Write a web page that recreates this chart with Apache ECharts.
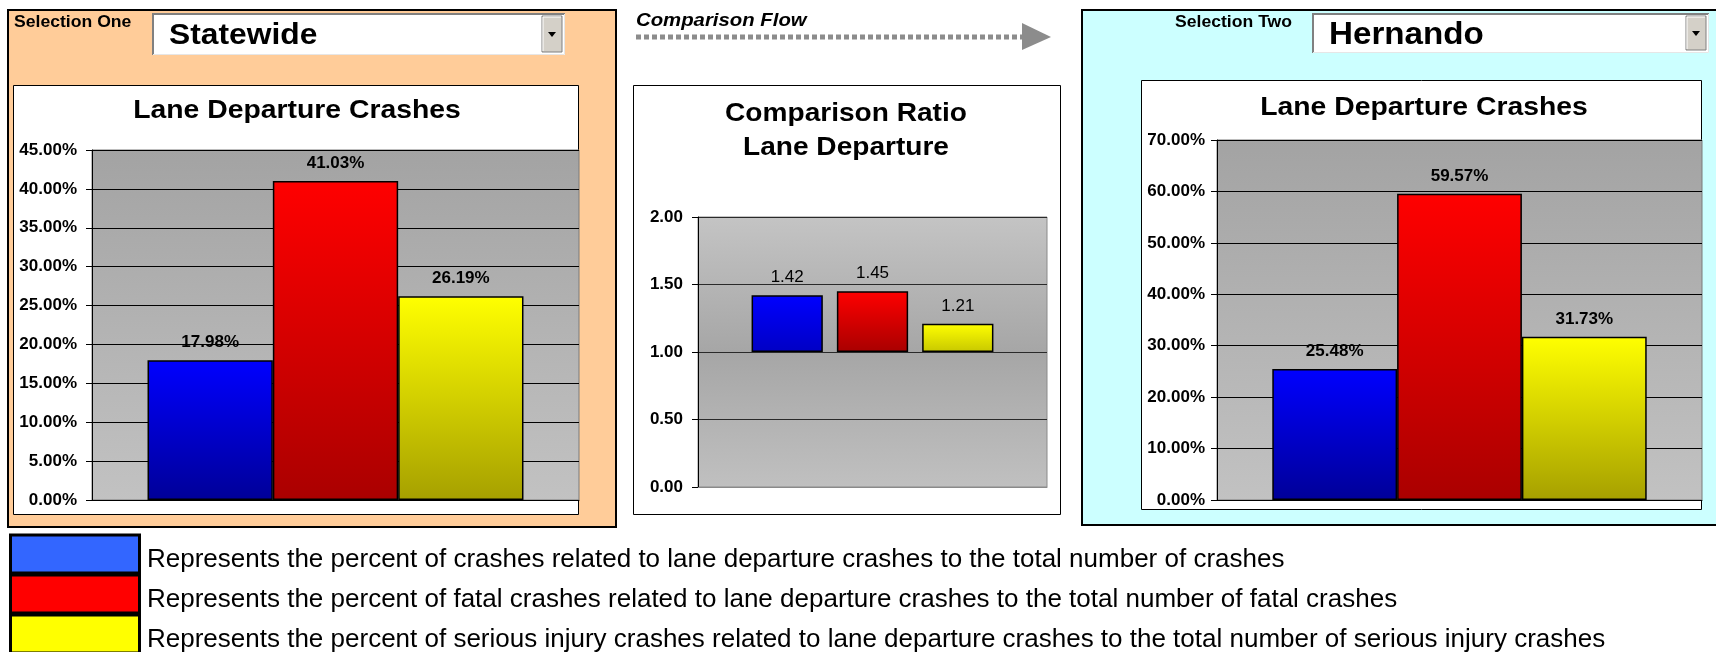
<!DOCTYPE html>
<html>
<head>
<meta charset="utf-8">
<title>Lane Departure Crashes</title>
<script src="https://cdn.jsdelivr.net/npm/echarts@6/dist/echarts.min.js"></script>
<style>
  html, body { margin: 0; padding: 0; background: #fff; }
  #main { width: 1716px; height: 652px; }
</style>
</head>
<body>
<div id="main"></div>
<script>
const FONT = '"Liberation Sans", Arial, sans-serif'

// selections + titles
const selectionOne = 'Statewide'
const selectionTwo = 'Hernando'
const crashTitle = 'Lane Departure Crashes'
const ratioTitle = ['Comparison Ratio', 'Lane Departure']

// values
const measures = ['Lane departure crashes', 'Fatal crashes', 'Serious injury crashes']
const statewidePct = [17.98, 41.03, 26.19]
const hernandoPct = [25.48, 59.57, 31.73]
const compareRatio = [1.42, 1.45, 1.21]
const ratioBase = 1

// axis ranges [min, max, interval]
const statewideAxis = [0, 45, 5]
const hernandoAxis = [0, 70, 10]
const ratioAxis = [0, 2, 0.5]

const legendColors = ['#3366ff', '#ff0000', '#ffff00']
const legendText = [
    'Represents the percent of crashes related to lane departure crashes to the total number of crashes',
    'Represents the percent of fatal crashes related to lane departure crashes to the total number of fatal crashes',
    'Represents the percent of serious injury crashes related to lane departure crashes to the total number of serious injury crashes'
]

const barColors = [['#0000ff', '#000098'], ['#ff0000', '#aa0000'], ['#ffff00', '#a6a000']]
const ratioColors = [['#0000ff', '#0000c4'], ['#ff0000', '#a80000'], ['#ffff00', '#c8c800']]

function grad(stops) {
    return new echarts.graphic.LinearGradient(0, 0, 0, 1, stops.map((c, i) => ({
        offset: i / (stops.length - 1),
        color: c
    })))
}

function valueAxis(idx, range, fmt, margin) {
    return {
        type: 'value',
        gridIndex: idx,
        min: range[0],
        max: range[1],
        interval: range[2],
        axisLine: { show: true, lineStyle: { color: '#000', width: 1 } },
        axisTick: { show: true, length: 6, lineStyle: { color: '#000' } },
        axisLabel: {
            formatter: fmt,
            fontFamily: FONT,
            fontWeight: 'bold',
            fontSize: 17,
            color: '#000',
            margin: margin
        },
        splitLine: { show: true, lineStyle: { color: idx == 1 ? '#2a2a2a' : '#000', width: 1 } }
    }
}

function categoryAxis(idx, lineColor) {
    return {
        type: 'category',
        gridIndex: idx,
        data: ['Lane Departure'],
        axisLabel: { show: false },
        axisTick: { show: false },
        axisLine: { show: true, lineStyle: { color: lineColor } }
    }
}

// one bar per measure, side by side with no gap
function pctSeries(values, idx) {
    return values.map((v, i) => ({
        type: 'bar',
        name: measures[i],
        xAxisIndex: idx,
        yAxisIndex: idx,
        data: [v],
        barGap: '0%',
        barCategoryGap: '22.8%',
        silent: true,
        itemStyle: { color: grad(barColors[i]), borderColor: '#000', borderWidth: 1.5 },
        label: {
            show: true,
            position: 'top',
            distance: 9,
            formatter: p => p.value.toFixed(2) + '%',
            fontFamily: FONT,
            fontWeight: 'bold',
            fontSize: 17,
            color: '#000'
        }
    }))
}

// ratio bars start at 1.00, so stack them on an invisible base
let ratioSeries = []
compareRatio.forEach((v, i) => {
    ratioSeries.push({
        type: 'bar',
        xAxisIndex: 1,
        yAxisIndex: 1,
        stack: 'r' + i,
        data: [ratioBase],
        barGap: '19.7%',
        barCategoryGap: '30.7%',
        silent: true,
        itemStyle: { color: 'rgba(0,0,0,0)', borderWidth: 0 }
    })
    ratioSeries.push({
        type: 'bar',
        name: measures[i],
        xAxisIndex: 1,
        yAxisIndex: 1,
        stack: 'r' + i,
        data: [+(v - ratioBase).toFixed(4)],
        barGap: '19.7%',
        barCategoryGap: '30.7%',
        silent: true,
        itemStyle: { color: grad(ratioColors[i]), borderColor: '#000', borderWidth: 1.5 },
        label: {
            show: true,
            position: 'top',
            distance: 9,
            formatter: () => v.toFixed(2),
            fontFamily: FONT,
            fontSize: 17,
            color: '#000'
        }
    })
})

function txt(x, y, text, font, align, sx, z) {
    return {
        type: 'text',
        x: x,
        y: y,
        scaleX: sx || 1,
        z: z || 5,
        silent: true,
        style: {
            text: text,
            font: font,
            fill: '#000',
            textAlign: align || 'left',
            textVerticalAlign: 'middle'
        }
    }
}

function dropdown(x, y, w, h, text, size, sx) {
    let bx = x + w - 23
    let by = y + 3
    let bh = h - 6
    let cx = bx + 10
    let cy = by + bh / 2
    return [
        { type: 'rect', z: -5, shape: { x: x, y: y, width: w, height: h }, style: { fill: '#fff' } },
        { type: 'polyline', z: -4, shape: { points: [[x + 1, y + h], [x + 1, y + 1], [x + w, y + 1]] }, style: { stroke: '#808080', lineWidth: 2, fill: null } },
        { type: 'polyline', z: -4, shape: { points: [[x + 1, y + h - 0.5], [x + w - 0.5, y + h - 0.5], [x + w - 0.5, y + 1]] }, style: { stroke: '#e6e6e6', lineWidth: 1, fill: null } },
        { type: 'rect', z: -3, shape: { x: bx, y: by, width: 20, height: bh }, style: { fill: '#d4d0c8', stroke: '#808080', lineWidth: 1 } },
        { type: 'polyline', z: -3, shape: { points: [[bx + 1, by + bh - 1], [bx + 1, by + 1], [bx + 19, by + 1]] }, style: { stroke: '#fff', lineWidth: 1, fill: null } },
        { type: 'polygon', z: -2, shape: { points: [[cx - 4, cy - 2], [cx + 4, cy - 2], [cx, cy + 3]] }, style: { fill: '#000' } },
        txt(x + 17, y + h / 2 + 2, text, 'bold ' + size + 'px ' + FONT, 'left', sx)
    ]
}

let decor = [
    // panels
    { type: 'rect', z: -10, shape: { x: 8, y: 10, width: 608, height: 517 }, style: { fill: '#ffcc99', stroke: '#000', lineWidth: 2 } },
    { type: 'rect', z: -10, shape: { x: 1082, y: 10, width: 650, height: 515 }, style: { fill: '#ccffff', stroke: '#000', lineWidth: 2 } },
    // white chart boxes
    { type: 'rect', z: -8, shape: { x: 13.5, y: 85.5, width: 565, height: 429 }, style: { fill: '#fff', stroke: '#000', lineWidth: 1 } },
    { type: 'rect', z: -8, shape: { x: 633.5, y: 85.5, width: 427, height: 429 }, style: { fill: '#fff', stroke: '#000', lineWidth: 1 } },
    { type: 'rect', z: -8, shape: { x: 1141.5, y: 80.5, width: 560, height: 429 }, style: { fill: '#fff', stroke: '#000', lineWidth: 1 } },
    // comparison flow arrow
    { type: 'line', z: 1, shape: { x1: 636, y1: 37, x2: 1023, y2: 37 }, style: { stroke: '#8c8c8c', lineWidth: 5, lineDash: [5, 3] } },
    { type: 'polygon', z: 1, shape: { points: [[1022, 23], [1051, 37], [1022, 50]] }, style: { fill: '#8c8c8c' } },
    txt(636, 21, 'Comparison Flow', 'italic bold 18px ' + FONT, 'left', 1.13),
    txt(14, 23, 'Selection One', 'bold 16px ' + FONT, 'left', 1.1),
    txt(1175, 23, 'Selection Two', 'bold 16px ' + FONT, 'left', 1.1),
    txt(297, 111, crashTitle, 'bold 26px ' + FONT, 'center', 1.09),
    txt(1424, 108, crashTitle, 'bold 26px ' + FONT, 'center', 1.09),
    txt(846, 114, ratioTitle[0], 'bold 26px ' + FONT, 'center', 1.08),
    txt(846, 148, ratioTitle[1], 'bold 26px ' + FONT, 'center', 1.08)
]
decor = decor.concat(dropdown(152, 13, 413, 42, selectionOne, 30, 1.06))
decor = decor.concat(dropdown(1312, 13, 397, 40, selectionTwo, 31, 1.07))

// legend rows
legendText.forEach((t, i) => {
    let y = 535 + i * 40
    decor.push({ type: 'rect', z: 3, shape: { x: 10.5, y: y, width: 129, height: 38 }, style: { fill: legendColors[i], stroke: '#000', lineWidth: 3 } })
    decor.push(txt(147, y + 25, t, '26px ' + FONT, 'left', 1))
})

const chart = echarts.init(document.getElementById('main'), null, { renderer: 'canvas' })

chart.setOption({
    animation: false,
    graphic: { elements: decor },
    grid: [
        { left: 92, top: 150, width: 487, height: 350, show: true, outerBoundsMode: 'none', borderColor: '#7a7a7a', borderWidth: 1, backgroundColor: grad(['#a3a3a3', '#c2c2c2']) },
        { left: 698, top: 217, width: 349, height: 270, show: true, outerBoundsMode: 'none', borderColor: '#8a8a8a', borderWidth: 1, backgroundColor: grad(['#c4c4c4', '#a6a6a6', '#c0c0c0']) },
        { left: 1217, top: 140, width: 485, height: 360, show: true, outerBoundsMode: 'none', borderColor: '#7a7a7a', borderWidth: 1, backgroundColor: grad(['#a3a3a3', '#c2c2c2']) }
    ],
    xAxis: [categoryAxis(0, '#000'), categoryAxis(1, '#8a8a8a'), categoryAxis(2, '#000')],
    yAxis: [
        valueAxis(0, statewideAxis, v => v.toFixed(2) + '%', 15),
        valueAxis(1, ratioAxis, v => v.toFixed(2), 15),
        valueAxis(2, hernandoAxis, v => v.toFixed(2) + '%', 12)
    ],
    series: pctSeries(statewidePct, 0).concat(ratioSeries, pctSeries(hernandoPct, 2))
})
</script>
</body>
</html>
